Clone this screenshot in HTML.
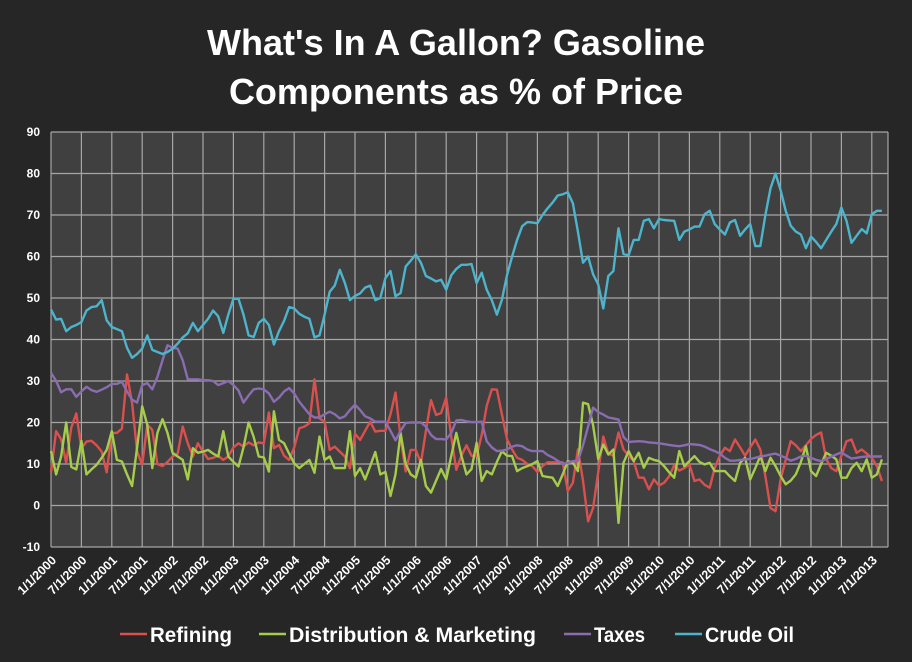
<!DOCTYPE html>
<html><head><meta charset="utf-8"><style>
html,body{margin:0;padding:0;background:#262626;}
svg{display:block;font-family:"Liberation Sans",sans-serif;}
</style></head><body>
<svg id="chart" width="912" height="662" viewBox="0 0 912 662">
<rect x="0" y="0" width="912" height="662" fill="#262626"/>
<text x="456" y="55" text-anchor="middle" fill="#fff" font-size="36" font-weight="bold">What's In A Gallon? Gasoline</text>
<text x="456" y="104" text-anchor="middle" fill="#fff" font-size="36" font-weight="bold">Components as % of Price</text>
<rect x="51" y="132" width="837" height="415" fill="#404040"/>
<g id="grid"></g>
<g id="yaxis"></g>
<g id="xaxis"></g>
<g id="series"></g>
<g id="legend"></g>
</svg>
<script>
const yTicks = [-10,0,10,20,30,40,50,60,70,80,90];
const xLabels = ["1/1/2000","7/1/2000","1/1/2001","7/1/2001","1/1/2002","7/1/2002","1/1/2003","7/1/2003","1/1/2004","7/1/2004","1/1/2005","7/1/2005","1/1/2006","7/1/2006","1/1/2007","7/1/2007","1/1/2008","7/1/2008","1/1/2009","7/1/2009","1/1/2010","7/1/2010","1/1/2011","7/1/2011","1/1/2012","7/1/2012","1/1/2013","7/1/2013"];
const seriesNames = ["Refining","Distribution & Marketing","Taxes","Crude Oil"];
const refining = [8,17.9,16,10.3,18.8,22.2,13.8,15.4,15.6,14.5,13,8,17.5,17.5,18.5,31.6,24.7,13,9.8,19.5,18.2,10,9.5,10.5,11.8,12.5,19,15,11.8,15,13,11.2,11.5,12,11,11.8,14,15,14.2,15.2,14.5,15.2,15,22.4,13.8,14.6,12,11,14,18.6,19,19.8,30.4,21,20.2,13.4,14.2,13,11.8,9,17.3,15.8,18,20.2,17.8,18,18,22,27.2,16.2,8.2,13.4,13.4,10.2,18,25.4,21.8,22.3,26,16.5,8.6,12,14.5,12,11.9,17,24,28,27.9,22,16,13.5,11.5,11,10,9.5,8.1,9.5,10.4,10.4,10.4,10.4,3.5,5.5,13.5,6,-3.8,-0.6,8,16.6,12.5,12,17.6,13.5,12,10.7,6.7,6.7,3.9,6.3,4.8,5.5,7,9.7,8.4,9,9.9,5.9,6.3,5,4.3,9,12,13.9,13.1,15.9,14,12,14,15.9,13.5,7,-0.6,-1.4,6.3,11,15.5,14.5,13.1,14.5,16,17,17.6,11.2,9,8.3,12,15.5,15.9,12.7,13.5,12.5,11.5,9.5,5.9];
const distribution = [13.1,7.5,11.8,20,9.3,8.7,15.6,7.5,8.7,9.8,11.5,13.4,17.9,11,10.6,7.5,4.7,14,23.9,19.4,9,17.5,20.8,17.5,12.7,11.8,11,6.3,13.8,12.7,13,13.4,12.5,11.8,17.9,11.8,10.5,9.4,14,20,16.5,11.8,11.6,8.2,22.7,15.8,15,12.5,10.2,9,10,11,7.9,16.6,11,11.8,9,9,9,17.9,7.1,9,6.3,9.5,12.9,7.5,8.1,2.3,7.5,17.5,10,7.5,6.7,11,4.7,3.1,6,8.8,6.3,12,17.5,12,7.5,8.8,15.1,5.9,8.3,7.5,10.5,13.1,12,11.9,8.3,9,9.5,10,10.7,7.1,6.9,6.7,4.7,7.5,10.7,10.3,8.3,24.8,24.4,19.3,11.2,14.7,12.3,13.5,-4.2,10.3,13.1,10.7,12.7,9.1,11.5,11,10.7,9.5,8,6.7,13.1,9.5,10.7,11.9,10.5,9.9,10.3,8.3,8.3,8.3,7,5.9,10.3,11.5,6.3,9,11.9,8.3,11.5,9.5,7.1,5.1,6,7.5,10.5,14.3,8.3,7.1,10,12.7,12,11.1,6.7,6.7,9,10.3,8.3,11.1,6.7,7.5,11.1];
const taxes = [32,30,27.3,28,28,26.2,27.5,28.6,27.8,27.4,27.9,28.5,29.3,29.3,29.8,27.5,25.5,24.8,29,29.5,28,31,35,38.6,38,37.8,35,30.4,30.4,30.4,30.2,30.2,30,29,29.5,30,29,27.7,24.8,26.5,28,28.2,28,27,25,26,27.5,28.3,27,25,23.5,22,21.2,21.2,22,22.6,22,21,21.5,23,24.3,23,21.5,21,20.2,20.2,20.2,18,15.7,18,19.9,20,20,20,19,17,16,16,15.9,17.5,20.5,20.6,20.3,20.1,20.1,20.2,15.5,14,13.1,13.2,13.5,14.2,14.5,14.3,13.5,13.1,13.1,13.1,12.2,11.6,10.8,10,10.3,10.7,10.7,14.5,19,23.6,22.5,21.9,21.2,21,20.7,16.5,15.3,15.4,15.5,15.4,15.2,15.1,15,14.8,14.6,14.4,14.3,14.5,14.8,14.7,14.6,14.2,13.6,13.1,12.5,11.5,10.8,10.8,11,11.1,11.2,11.5,11.8,12,12.3,12.5,12,11.5,10.8,11.2,11.8,12,11.5,11,10.7,11.2,11.8,12.3,12.8,12,11.3,11.5,11.7,11.8,11.8,11.8,11.8];
const crudeOil = [47.2,44.8,45,42,43,43.5,44.2,47,47.8,48,49.5,44.6,43,42.5,42,38,35.6,36.5,37.8,41,37.5,37,36.5,37,37.8,39,40.5,41.5,44,42,43.5,45,47,45.6,41.6,46,49.8,49.8,46,41,40.6,44,45,43.5,38.8,42,44.5,47.8,47.5,46.2,45.5,45,40.5,41,46,51.5,53,56.8,53.6,49.5,50.5,51.1,52.5,53,49.5,50,54.8,56.5,50.4,51.2,57.6,59,60.5,58.5,55.3,54.7,54,54.4,52,55.5,57,58,58,58.2,53.6,56.1,52,49.5,46,49.6,55.5,60,64,67.3,68.3,68.2,68,70,71.6,73,74.7,75,75.5,72.8,66,58.5,60,55.7,53.3,47.5,55.3,56.5,66.8,60.6,60.3,64,64,68.6,69,66.8,69,68.8,68.7,68.6,64,66,66.5,67.2,67.2,70.2,71,67.8,66.5,65.3,68.2,68.8,65,66.5,67.8,62.5,62.5,70,76.4,80,76,71,67.4,66,65.3,62,64.8,63.5,62,64,66,67.8,71.8,68.6,63.3,65,66.6,65.6,70.2,71,71];

const NS = "http://www.w3.org/2000/svg";
const L = 51, R = 888, T = 132, B = 547;
const monthW = 30.4 / 6;
function xPos(m){ return L + m * monthW; }
function yPos(v){ return B - (v - (-10)) / 100 * (B - T); }
function mk(tag, attrs, parent){ const e = document.createElementNS(NS, tag); for (const k in attrs) e.setAttribute(k, attrs[k]); parent.appendChild(e); return e; }

const grid = document.getElementById('grid');
const yaxis = document.getElementById('yaxis');
const xaxis = document.getElementById('xaxis');
yTicks.forEach(v => {
  const ln = mk('line', {x1:L, x2:R, y1:yPos(v), y2:yPos(v), stroke:'#a6a6a6', 'stroke-width':1.2}, grid);
  
  
  const t = mk('text', {x:40, y:yPos(v)+4, 'text-anchor':'end', fill:'#fff', 'font-size':12, 'font-weight':'bold'}, yaxis);
  t.textContent = v;
  
  
});
xLabels.forEach((lab, i) => {
  const x = xPos(i * 6);
  const ln = mk('line', {x1:x, x2:x, y1:T, y2:B, stroke:'#a6a6a6', 'stroke-width':1.2}, grid);
  
  
  const t = mk('text', {x:x+6, y:B+14, 'text-anchor':'end', fill:'#fff', 'font-size':12.5, 'font-weight':'bold', transform:'rotate(-45 '+(x+6)+' '+(B+14)+')'}, xaxis);
  t.textContent = lab;
  
  
});
mk('line', {x1:R, x2:R, y1:T, y2:B, stroke:'#a6a6a6', 'stroke-width':1.2}, grid);

const colors = ['#d9504e', '#a6cc4c', '#8a6cb0', '#4db4cc'];
const allSeries = [refining, distribution, taxes, crudeOil];
const seriesG = document.getElementById('series');
allSeries.forEach((arr, si) => {
  const d = arr.map((v, m) => (m ? 'L' : 'M') + xPos(m).toFixed(1) + ' ' + yPos(v).toFixed(1)).join(' ');
  const p = mk('path', {d:d, fill:'none', stroke:colors[si], 'stroke-width':2.4, 'stroke-linejoin':'round'}, seriesG);
  
  
});

const legend = document.getElementById('legend');
const legX = [120, 259, 564, 675];
const legW = [82, 247, 51, 89];
seriesNames.forEach((n, i) => {
  const g = mk('g', {}, legend);
  
  
  mk('line', {x1:legX[i], x2:legX[i]+27, y1:634, y2:634, stroke:colors[i], 'stroke-width':2.6}, g);
  const t = mk('text', {x:legX[i]+30, y:642, fill:'#fff', 'font-size':21, 'font-weight':'bold', textLength:legW[i], lengthAdjust:'spacingAndGlyphs'}, g);
  t.textContent = n;
});
</script>
</body></html>
